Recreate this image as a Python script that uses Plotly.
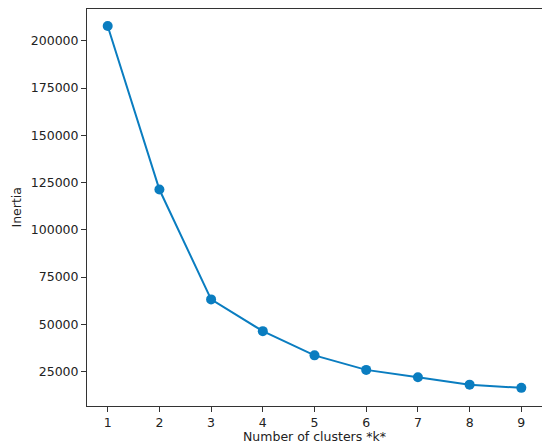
import plotly.graph_objects as go

k_values = [1, 2, 3, 4, 5, 6, 7, 8, 9]
inertia = [207800, 121300, 63200, 46400, 33600, 25900, 22000, 18100, 16400]
y_ticks = [25000, 50000, 75000, 100000, 125000, 150000, 175000, 200000]
y_tick_labels = [str(v) for v in y_ticks]

color = "#0a7dc0"
font = dict(family="DejaVu Sans", size=12.5, color="#222222")
fig = go.Figure(go.Scatter(
    x=k_values, y=inertia, mode="lines+markers",
    line=dict(color=color, width=2),
    marker=dict(color=color, size=10),
    cliponaxis=False,
))

axis_common = dict(
    showline=True, linecolor="#333333", linewidth=1, mirror=True,
    ticks="outside", ticklen=5, tickcolor="#333333", tickwidth=1,
    showgrid=False, zeroline=False, automargin=False,
    tickfont=font,
)

# page body has an 8px default margin, so the figure is sized to fit inside it
fig.update_layout(
    width=542, height=439,
    margin=dict(l=79, r=8, t=1, b=41),
    paper_bgcolor="white", plot_bgcolor="white",
    showlegend=False,
    xaxis=dict(range=[0.6, 9.4], tickvals=k_values, **axis_common),
    yaxis=dict(range=[6800, 216800], tickvals=y_ticks, ticktext=y_tick_labels,
               **axis_common),
    annotations=[
        dict(text="Number of clusters *k*", xref="paper", yref="paper",
             x=0.5, y=0, yshift=-30, xanchor="center", yanchor="middle",
             showarrow=False, font=font),
        dict(text="Inertia", xref="paper", yref="paper",
             x=0, xshift=-71, y=0.5, xanchor="center", yanchor="middle",
             textangle=-90, showarrow=False, font=font),
    ],
)

fig.write_html("out.html")
